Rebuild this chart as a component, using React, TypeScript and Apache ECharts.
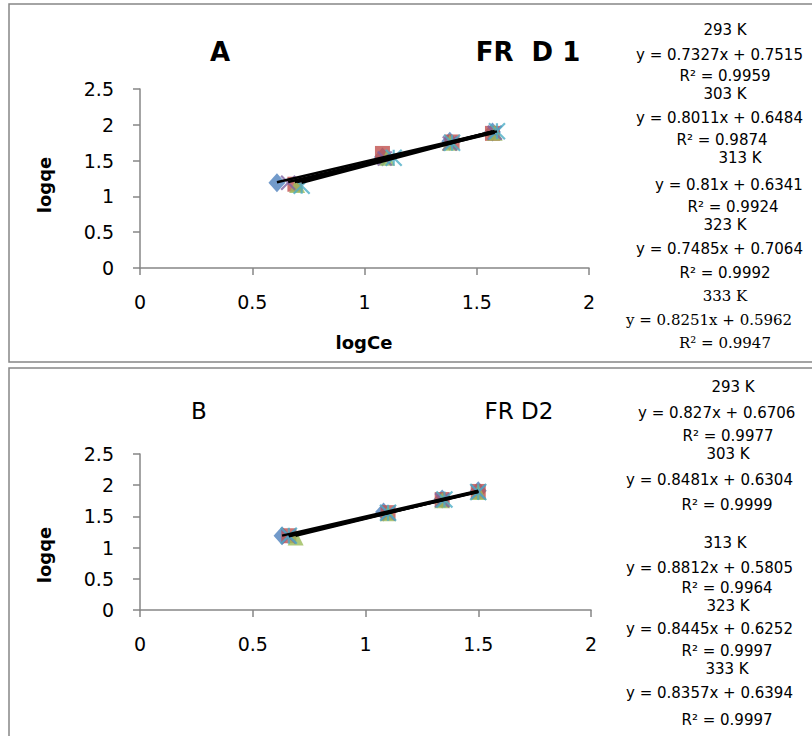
import React, { useEffect, useRef } from 'react';
import * as echarts from 'echarts';

// ---------- data ----------
const temps = ['293 K', '303 K', '313 K', '323 K', '333 K'];

// Panel A (FR D 1): logCe / logqe per temperature
const logCeA293 = [0.61, 1.08, 1.38, 1.57];
const logqeA293 = [1.19, 1.55, 1.77, 1.9];
const logCeA303 = [0.69, 1.08, 1.39, 1.57];
const logqeA303 = [1.17, 1.6, 1.76, 1.88];
const logCeA313 = [0.7, 1.1, 1.38, 1.58];
const logqeA313 = [1.16, 1.54, 1.75, 1.89];
const logCeA323 = [0.66, 1.09, 1.38, 1.58];
const logqeA323 = [1.19, 1.53, 1.74, 1.89];
const logCeA333 = [0.72, 1.13, 1.39, 1.59];
const logqeA333 = [1.15, 1.54, 1.75, 1.91];

// Panel B (FR D2)
const logCeB293 = [0.63, 1.08, 1.34, 1.5];
const logqeB293 = [1.19, 1.57, 1.78, 1.91];
const logCeB303 = [0.66, 1.1, 1.34, 1.5];
const logqeB303 = [1.19, 1.56, 1.77, 1.9];
const logCeB313 = [0.69, 1.1, 1.34, 1.5];
const logqeB313 = [1.16, 1.55, 1.76, 1.89];
const logCeB323 = [0.66, 1.1, 1.34, 1.5];
const logqeB323 = [1.18, 1.55, 1.76, 1.89];
const logCeB333 = [0.66, 1.1, 1.35, 1.5];
const logqeB333 = [1.19, 1.56, 1.77, 1.89];

// Trendline coefficients
const slopeA = [0.7327, 0.8011, 0.81, 0.7485, 0.8251];
const interceptA = [0.7515, 0.6484, 0.6341, 0.7064, 0.5962];
const r2A = ['0.9959', '0.9874', '0.9924', '0.9992', '0.9947'];
const slopeB = [0.827, 0.8481, 0.8812, 0.8445, 0.8357];
const interceptB = [0.6706, 0.6304, 0.5805, 0.6252, 0.6394];
const r2B = ['0.9977', '0.9999', '0.9964', '0.9997', '0.9997'];

const yTicks = [0, 0.5, 1, 1.5, 2, 2.5];
const xTicks = [0, 0.5, 1, 1.5, 2];

// ---------- styles ----------
const colors = ['#4F81BD', '#C0504D', '#9BBB59', '#8064A2', '#4BACC6'];
const symbols = [
  'diamond',
  'rect',
  'triangle',
  'path://M0,0L10,10M10,0L0,10',
  'path://M0,0L10,10M10,0L0,10M5,0L5,10',
];
const symbolSizes: any[] = [[17, 19], 15, 16, 14, 16];
const FONT = '"DejaVu Sans", sans-serif';
const SERIF = '"DejaVu Serif", serif';
const AXIS_GREY = '#868686';

// text layout (label positions)
const layoutA = [
  { t: [725, 30], e: [636, 55], r: [725, 76] },
  { t: [725, 94], e: [636, 118], r: [722, 140] },
  { t: [740, 158], e: [655, 185], r: [733, 207] },
  { t: [725, 225], e: [636, 249], r: [725, 273] },
  { t: [725, 296], e: [626, 320], r: [725, 343] },
];
const layoutB = [
  { t: [733, 387], e: [638, 413], r: [728, 436] },
  { t: [728, 454], e: [626, 480], r: [727, 505] },
  { t: [725, 543], e: [626, 568], r: [727, 588] },
  { t: [728, 606], e: [626, 629], r: [727, 651] },
  { t: [727, 669], e: [626, 693], r: [727, 720] },
];

function zip(xs: number[], ys: number[]) {
  return xs.map((x, i) => [x, ys[i]]);
}

export default function App() {
  const ref = useRef<HTMLDivElement>(null);

  useEffect(() => {
    if (!ref.current) return;
    const chart = echarts.init(ref.current, undefined, { renderer: 'svg' });

    const panelsX = [
      [logCeA293, logCeA303, logCeA313, logCeA323, logCeA333],
      [logCeB293, logCeB303, logCeB313, logCeB323, logCeB333],
    ];
    const panelsY = [
      [logqeA293, logqeA303, logqeA313, logqeA323, logqeA333],
      [logqeB293, logqeB303, logqeB313, logqeB323, logqeB333],
    ];
    const slopes = [slopeA, slopeB];
    const intercepts = [interceptA, interceptB];
    const r2s = [r2A, r2B];
    const layouts = [layoutA, layoutB];

    const series: any[] = [];
    for (let p = 0; p < 2; p++) {
      for (let s = 0; s < 5; s++) {
        const isPath = s >= 3;
        series.push({
          type: 'scatter',
          name: temps[s],
          xAxisIndex: p,
          yAxisIndex: p,
          data: zip(panelsX[p][s], panelsY[p][s]),
          symbol: symbols[s],
          symbolSize: symbolSizes[s],
          itemStyle: isPath
            ? { color: 'rgba(0,0,0,0)', borderColor: colors[s], borderWidth: 2.2 }
            : { color: colors[s] },
          z: 2,
          silent: true,
        });
      }
      for (let s = 0; s < 5; s++) {
        const xs = panelsX[p][s];
        const x0 = Math.min(...xs);
        const x1 = Math.max(...xs);
        const a = slopes[p][s];
        const b = intercepts[p][s];
        series.push({
          type: 'line',
          xAxisIndex: p,
          yAxisIndex: p,
          data: [
            [x0, a * x0 + b],
            [x1, a * x1 + b],
          ],
          symbol: 'none',
          lineStyle: { color: '#000', width: 2.5 },
          z: 5,
          silent: true,
        });
      }
    }

    const axisCommon = {
      axisLine: { show: true, onZero: false, lineStyle: { color: AXIS_GREY, width: 1.5 } },
      axisTick: { show: true, length: 7, lineStyle: { color: AXIS_GREY, width: 1.5 } },
      splitLine: { show: false },
    };
    const labelStyle = { color: '#000', fontSize: 19, fontFamily: FONT };

    const graphics: any[] = [
      {
        type: 'rect',
        shape: { x: 9, y: 4, width: 900, height: 358 },
        style: { fill: 'none', stroke: AXIS_GREY, lineWidth: 1.5 },
      },
      {
        type: 'rect',
        shape: { x: 9, y: 368, width: 900, height: 400 },
        style: { fill: 'none', stroke: AXIS_GREY, lineWidth: 1.5 },
      },
      {
        type: 'text', x: 220, y: 52,
        style: { text: 'A', fontSize: 26, fontWeight: 'bold', fontFamily: FONT, fill: '#000', align: 'center', verticalAlign: 'middle' },
      },
      {
        type: 'text', x: 528, y: 52,
        style: { text: 'FR  D 1', fontSize: 26, fontWeight: 'bold', fontFamily: FONT, fill: '#000', align: 'center', verticalAlign: 'middle' },
      },
      {
        type: 'text', x: 364, y: 342,
        style: { text: 'logCe', fontSize: 18, fontWeight: 'bold', fontFamily: FONT, fill: '#000', align: 'center', verticalAlign: 'middle' },
      },
      {
        type: 'text', x: 44, y: 185, rotation: Math.PI / 2,
        style: { text: 'logqe', fontSize: 18, fontWeight: 'bold', fontFamily: FONT, fill: '#000', align: 'center', verticalAlign: 'middle' },
      },
      {
        type: 'text', x: 199, y: 411,
        style: { text: 'B', fontSize: 23, fontFamily: FONT, fill: '#000', align: 'center', verticalAlign: 'middle' },
      },
      {
        type: 'text', x: 519, y: 411,
        style: { text: 'FR D2', fontSize: 23, fontFamily: FONT, fill: '#000', align: 'center', verticalAlign: 'middle' },
      },
      {
        type: 'text', x: 44, y: 555, rotation: Math.PI / 2,
        style: { text: 'logqe', fontSize: 18, fontWeight: 'bold', fontFamily: FONT, fill: '#000', align: 'center', verticalAlign: 'middle' },
      },
    ];

    for (let p = 0; p < 2; p++) {
      for (let s = 0; s < 5; s++) {
        const L = layouts[p][s];
        const fam = p === 0 && s === 4 ? SERIF : FONT;
        const base = { fontSize: 15, lineHeight: 15, fontFamily: fam, fill: '#000', verticalAlign: 'middle' };
        graphics.push({
          type: 'text', x: L.t[0], y: L.t[1],
          style: { ...base, text: temps[s], align: 'center' },
        });
        graphics.push({
          type: 'text', x: L.e[0], y: L.e[1],
          style: { ...base, text: `y = ${slopes[p][s]}x + ${intercepts[p][s]}`, align: 'left' },
        });
        graphics.push({
          type: 'text', x: L.r[0], y: L.r[1],
          style: { ...base, text: `R\u00b2 = ${r2s[p][s]}`, align: 'center' },
        });
      }
    }

    chart.setOption({
      animation: false,
      backgroundColor: '#fff',
      grid: [
        { left: 140, top: 89, width: 449, height: 179, containLabel: false },
        { left: 140, top: 454, width: 451, height: 156, containLabel: false },
      ],
      xAxis: [0, 1].map((i) => ({
        type: 'value',
        gridIndex: i,
        min: xTicks[0],
        max: xTicks[xTicks.length - 1],
        interval: 0.5,
        ...axisCommon,
        axisLabel: { ...labelStyle, margin: 24 },
      })),
      yAxis: [0, 1].map((i) => ({
        type: 'value',
        gridIndex: i,
        min: yTicks[0],
        max: yTicks[yTicks.length - 1],
        interval: 0.5,
        ...axisCommon,
        axisLabel: { ...labelStyle, margin: 26 },
      })),
      series,
      graphic: graphics,
    });

    return () => chart.dispose();
  }, []);

  return (
    <div
      ref={ref}
      style={{ position: 'absolute', left: 0, top: 0, width: 812, height: 736 }}
    />
  );
}
